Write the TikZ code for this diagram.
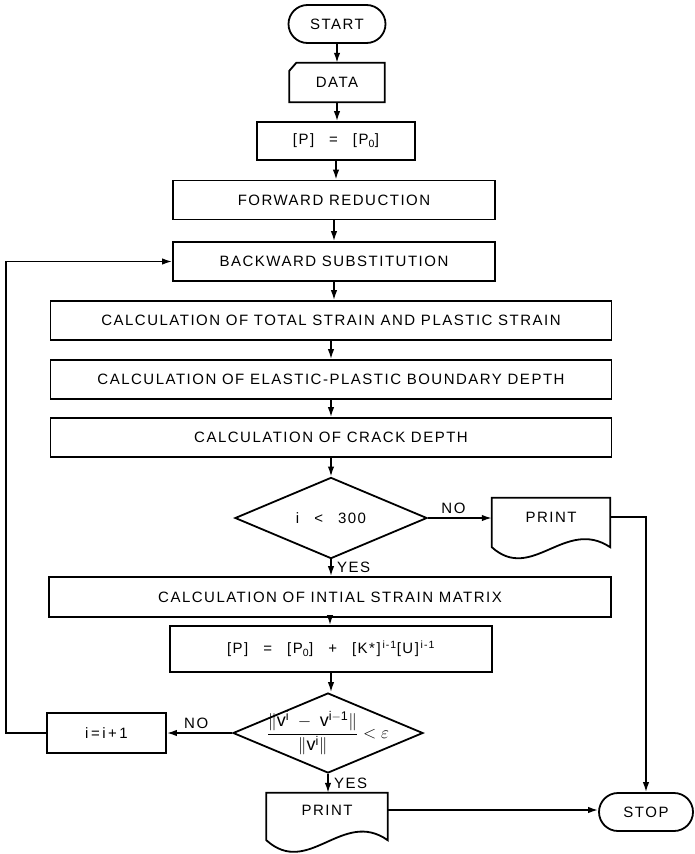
\documentclass[tikz,border=0pt]{standalone}
\usepackage{amsmath}
\usepackage{fontspec}
\setmainfont{Liberation Sans}[LetterSpace=10]
\usetikzlibrary{arrows.meta,shapes.geometric}

\tikzset{
    procbox/.style ={draw, line width=1.8pt, minimum height=39pt, inner sep=0pt},
    termbox/.style ={draw, line width=1.8pt, rounded corners=19pt, minimum width=97pt, minimum height=38pt},
    decide/.style  ={draw, diamond, line width=1.8pt, minimum width=192pt, minimum height=80pt, inner sep=0pt},
    printbox/.style={inner sep=0pt},
    flow/.style    ={line width=1.6pt, -{Latex[length=10pt,width=6.5pt]}},
    outline/.style ={line width=1.8pt},
}

\begin{document}
\begin{tikzpicture}[x=1pt, y=-1pt, font=\fontsize{15pt}{17pt}\selectfont]
    \useasboundingbox (0,0) rectangle (694,854);
    % Start and input
    \node[termbox]                                        (start)   at (337, 24.0) {START};
    \node[minimum width=95pt, minimum height=39pt]        (data)    at (337, 82.5) {DATA};
    \draw[outline] ([yshift=-8pt]data.north west) -- ([xshift=7pt]data.north west) -- (data.north east)
                   -- (data.south east) -- (data.south west) -- cycle;
    \node[procbox, minimum width=158pt, minimum height=38pt] (pinit) at (336,141.0)
         {[P]\quad=\quad[P\textsubscript{0}]};
    % Solution steps
    \node[procbox, minimum width=322pt]                   (fwd)     at (334,200.0) {FORWARD REDUCTION};
    \node[procbox, minimum width=322pt]                   (bwd)     at (334,261.5) {BACKWARD SUBSTITUTION};
    \node[procbox, minimum width=561pt]                   (total)   at (331,320.5) {CALCULATION OF TOTAL STRAIN AND PLASTIC STRAIN};
    \node[procbox, minimum width=561pt]                   (elastic) at (331,379.5) {CALCULATION OF ELASTIC-PLASTIC BOUNDARY DEPTH};
    \node[procbox, minimum width=561pt]                   (crack)   at (331,437.5) {CALCULATION OF CRACK DEPTH};
    % Iteration limit
    \node[decide]                                         (limit)   at (331,518.0) {i\quad<\quad300};
    \node[printbox, minimum width=118pt, minimum height=38pt] (print1) at (551,517.0) {PRINT};
    \draw[outline] (print1.north west) -- (print1.north east) -- ([yshift=-11pt]print1.south east)
                   .. controls +(-45pt,30pt) and +(40pt,-36pt) .. ([yshift=-11pt]print1.south west) -- cycle;
    % Load update
    \node[procbox, minimum width=562pt, minimum height=40pt] (strain) at (330,597.0) {CALCULATION OF INTIAL STRAIN MATRIX};
    \node[procbox, minimum width=322pt, minimum height=46pt] (pload)  at (331,649.0)
         {[P]\quad=\quad[P\textsubscript{0}]\quad+\quad[K*]\textsuperscript{\,i-1}[U]\textsuperscript{\,i-1}};
    % Convergence test
    \node[decide, minimum width=190pt,
          label={[font=\fontsize{18pt}{20pt}\selectfont]center:{$\dfrac{\|\mathrm{v}^{\mathrm{i}}\;-\;\mathrm{v}^{\mathrm{i-1}}\|}{\|\mathrm{v}^{\mathrm{i}}\|}<\varepsilon$}}]
                                                          (conv)    at (328,733.0) {};
    \node[procbox, minimum width=119pt, minimum height=40pt] (incr)  at (106.5,733.0) {i\,=\,i\,+\,1};
    \node[printbox, minimum width=121pt, minimum height=34pt] (print2) at (327,810.0) {PRINT};
    \draw[outline] (print2.north west) -- (print2.north east) -- ([yshift=-13pt]print2.south east)
                   .. controls +(-45pt,32pt) and +(42pt,-38pt) .. ([yshift=-13pt]print2.south west) -- cycle;
    \node[termbox, minimum width=94pt]                    (stop)    at (646,812.0) {STOP};
    % Connectors
    \draw[flow] (start.south)   -- (start.south   |- data.north);
    \draw[flow] (data.south)    -- (data.south    |- pinit.north);
    \draw[flow] (pinit.south)   -- (pinit.south   |- fwd.north);
    \draw[flow] (fwd.south)     -- (fwd.south     |- bwd.north);
    \draw[flow] (bwd.south)     -- (bwd.south     |- total.north);
    \draw[flow] (total.south)   -- (total.south   |- elastic.north);
    \draw[flow] (elastic.south) -- (elastic.south |- crack.north);
    \draw[flow] (crack.south)   -- (crack.south   |- limit.north);
    \draw[flow] (limit.east)    -- (limit.east    -| print1.west) node[pos=0.4, above] {NO};
    \draw[flow] (limit.south)   -- (limit.south   |- strain.north) node[pos=0.5, right, xshift=2pt] {YES};
    \draw[flow] (strain.south)  -- (strain.south  |- pload.north);
    \draw[flow] (pload.south)   -- (pload.south   |- conv.north);
    \draw[flow] (conv.west)     -- (conv.west     -| incr.east) node[pos=0.55, above] {NO};
    \draw[flow] (conv.south)    -- (conv.south    |- print2.north) node[pos=0.5, right, xshift=2pt] {YES};
    \draw[flow] (incr.west)     -- ++(-40,0) |- (bwd.west);
    \draw[flow] (print1.east)   -| (stop.north);
    \draw[flow] (print2.east)   -- (print2.east   -| stop.west);
\end{tikzpicture}
\end{document}
